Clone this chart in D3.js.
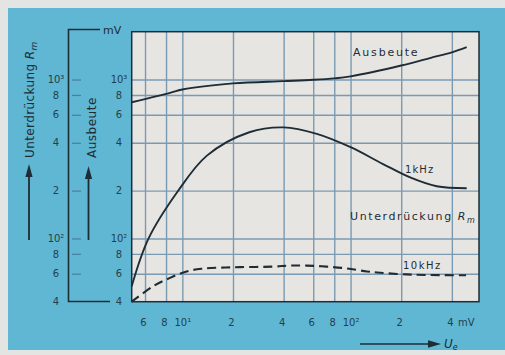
<!DOCTYPE html>
<html>
<head>
<meta charset="utf-8">
<script src="https://cdn.jsdelivr.net/npm/d3@7"></script>
<style>
  html, body { margin: 0; padding: 0; background: #e4e7e6; }
  svg { display: block; font-family: 'DejaVu Sans', sans-serif; }
</style>
</head>
<body>
<div id="chart"></div>
<script>
// input voltage U_e in mV
const xGrid = [6, 8, 10, 20, 40, 60, 80, 100, 200, 400];
const xTickLabels = ['6', '8', '10¹', '2', '4', '6', '8', '10²', '2', '4'];
const yGrid = [60, 80, 100, 200, 400, 600, 800, 1000];
const yTicks = [40, 60, 80, 100, 200, 400, 600, 800, 1000];
const yTickLabels = ['4', '6', '8', '10²', '2', '4', '6', '8', '10³'];

const ausbeuteU = [5, 8.45, 10, 20, 40, 60, 80, 100, 200, 300, 400, 490];
const ausbeute = [720, 824, 865, 946, 977, 996, 1017, 1047, 1225, 1370, 1484, 1600];

const khz1U = [5, 6.3, 9.4, 14, 25, 40, 63, 100, 156, 226, 325, 490];
const khz1 = [50, 100, 198, 332, 466, 500, 455, 375, 294, 242, 213, 207];

const khz10U = [5, 6.7, 8.45, 10.6, 13, 16.8, 22, 34.6, 43.6, 55, 72, 95, 125, 150, 202, 284, 486];
const khz10 = [40, 50, 56.5, 62, 64.5, 65.5, 66, 66.5, 67.5, 67.5, 66.5, 64.8, 62, 60.8, 59.6, 58.9, 58.7];

const WIDTH = 505;
const HEIGHT = 355;
const plot = { left: 131.7, right: 479, top: 31.7, bottom: 301.7 };

const INK = '#1e2c35';
const LABEL = '#263e4c';
const GRID = '#7a9ab2';

const svg = d3.select('#chart')
  .append('svg')
  .attr('width', WIDTH)
  .attr('height', HEIGHT);

// scan background and the blue card
svg.append('rect').attr('width', WIDTH).attr('height', HEIGHT).attr('fill', '#e3e5e3');
svg.append('rect').attr('x', 8).attr('y', 8).attr('width', WIDTH - 8).attr('height', 342).attr('fill', '#5fb7d3');

const x = d3.scaleLog().domain([5, 580]).range([plot.left, plot.right]);
const y = d3.scaleLog().domain([40, 2000]).range([plot.bottom, plot.top]);

// paper of the plot area
svg.append('rect')
  .attr('x', plot.left).attr('y', plot.top)
  .attr('width', plot.right - plot.left).attr('height', plot.bottom - plot.top)
  .attr('fill', '#e7e5e2');

// grid lines
const xGridG = svg.append('g')
  .attr('transform', `translate(0,${plot.bottom})`)
  .call(d3.axisBottom(x).tickValues(xGrid).tickSize(-(plot.bottom - plot.top)).tickFormat(''));
const yGridG = svg.append('g')
  .attr('transform', `translate(${plot.left},0)`)
  .call(d3.axisLeft(y).tickValues(yGrid).tickSize(-(plot.right - plot.left)).tickFormat(''));
[xGridG, yGridG].forEach((g) => {
  g.select('.domain').remove();
  g.selectAll('line').attr('stroke', GRID).attr('stroke-width', 1.4);
});

// curves
const line = (xs) => d3.line()
  .curve(d3.curveCatmullRom.alpha(0.5))
  .x((_d, i) => x(xs[i]))
  .y((d) => y(d));

svg.append('path').datum(ausbeute)
  .attr('fill', 'none').attr('stroke', INK).attr('stroke-width', 1.9)
  .attr('d', line(ausbeuteU));
svg.append('path').datum(khz1)
  .attr('fill', 'none').attr('stroke', INK).attr('stroke-width', 1.9)
  .attr('d', line(khz1U));
svg.append('path').datum(khz10)
  .attr('fill', 'none').attr('stroke', INK).attr('stroke-width', 2.1)
  .attr('stroke-dasharray', '9,5')
  .attr('d', line(khz10U));

// frame
svg.append('rect')
  .attr('x', plot.left).attr('y', plot.top)
  .attr('width', plot.right - plot.left).attr('height', plot.bottom - plot.top)
  .attr('fill', 'none').attr('stroke', INK).attr('stroke-width', 1.5);

// curve labels
const label = (tx, ty, size, spacing) => svg.append('text')
  .attr('x', tx).attr('y', ty)
  .style('font-size', size)
  .style('letter-spacing', spacing)
  .attr('fill', INK);

label(353, 56, '11px', '1.8px').text('Ausbeute');
label(405, 173, '10px', '1.1px').text('1kHz');
label(403, 268.5, '10px', '1.5px').text('10kHz');
const rm = label(350, 219.5, '11px', '1.6px');
rm.append('tspan').text('Unterdrückung ');
rm.append('tspan').style('font-style', 'italic').text('R');
rm.append('tspan').attr('dy', 3).style('font-size', '8px').style('font-style', 'italic').text('m');

// x tick labels
const xLab = svg.append('g')
  .attr('transform', `translate(0,${plot.bottom})`)
  .call(d3.axisBottom(x).tickValues(xGrid).tickSize(0).tickPadding(17)
    .tickFormat((_d, i) => xTickLabels[i]));
xLab.select('.domain').remove();
xLab.selectAll('text')
  .attr('dx', (_d, i) => (xTickLabels[i].length > 1 ? 0 : -2))
  .style('font-size', '10px').attr('fill', LABEL).style('font-family', 'DejaVu Sans');
svg.append('text').attr('x', 458).attr('y', 326)
  .style('font-size', '10px').attr('fill', LABEL).text('mV');

// U_e arrow
svg.append('line').attr('x1', 360).attr('y1', 344).attr('x2', 430).attr('y2', 344)
  .attr('stroke', INK).attr('stroke-width', 1.6);
svg.append('path').attr('d', 'M441,344 L428,340.3 L428,347.7 Z').attr('fill', INK);
const ue = svg.append('text').attr('x', 444).attr('y', 348)
  .style('font-size', '12px').attr('fill', INK);
ue.append('tspan').style('font-style', 'italic').text('U');
ue.append('tspan').attr('dy', 2).style('font-size', '8px').style('font-style', 'italic').text('e');

// y tick labels: two columns left of the plot
[56, 119].forEach((cx) => {
  const g = svg.append('g')
    .attr('transform', `translate(${cx},0)`)
    .call(d3.axisLeft(y).tickValues(yTicks).tickSize(0).tickPadding(0)
      .tickFormat((_d, i) => yTickLabels[i]));
  g.select('.domain').remove();
  g.selectAll('text')
    .attr('x', 0)
    .attr('text-anchor', 'middle')
    .style('font-size', '10px')
    .style('font-family', 'DejaVu Sans')
    .attr('fill', LABEL);
});

// inner scale line with its short ticks
const tickG = svg.append('g')
  .attr('transform', 'translate(72,0)')
  .call(d3.axisRight(y).tickValues(yTicks.slice(1)).tickSize(9).tickFormat(''));
tickG.select('.domain').remove();
tickG.selectAll('line').attr('stroke', '#4a7f9c').attr('stroke-width', 1.2);

svg.append('path')
  .attr('d', 'M100,29.5 L68.5,29.5 L68.5,301.5 L110,301.5')
  .attr('fill', 'none').attr('stroke', INK).attr('stroke-width', 1.6);
svg.append('text').attr('x', 103).attr('y', 34)
  .style('font-size', '11px').attr('fill', INK).text('mV');

// vertical arrows with rotated titles
const arrow = (ax, tip) => {
  svg.append('line').attr('x1', ax).attr('y1', 240).attr('x2', ax).attr('y2', tip + 10)
    .attr('stroke', INK).attr('stroke-width', 1.8);
  svg.append('path').attr('d', `M${ax},${tip} L${ax - 3.6},${tip + 13} L${ax + 3.6},${tip + 13} Z`)
    .attr('fill', INK);
};
arrow(29, 164);
arrow(88.5, 166);

const t1 = svg.append('text')
  .attr('transform', 'translate(34,158) rotate(-90)')
  .style('font-size', '12px').style('letter-spacing', '0.4px').attr('fill', INK);
t1.append('tspan').text('Unterdrückung ');
t1.append('tspan').style('font-style', 'italic').text('R');
t1.append('tspan').attr('dy', 3).style('font-size', '9px').style('font-style', 'italic').text('m');

svg.append('text')
  .attr('transform', 'translate(96,158) rotate(-90)')
  .style('font-size', '12px').style('letter-spacing', '0.5px').attr('fill', INK)
  .text('Ausbeute');
</script>
</body>
</html>
